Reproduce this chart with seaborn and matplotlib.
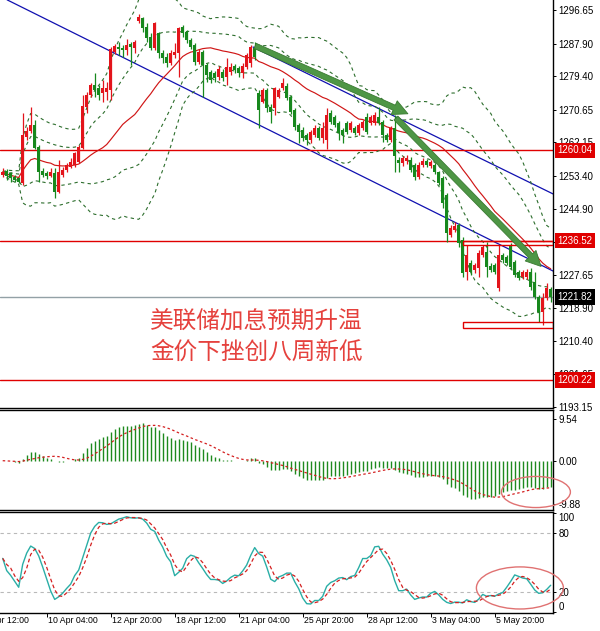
import numpy as np
import pandas as pd
import matplotlib
matplotlib.use('Agg')
import matplotlib.pyplot as plt
import matplotlib.transforms as mtransforms
from matplotlib.patches import Rectangle, Ellipse
import seaborn as sns

# H4 gold candles
opens = [1253.7, 1254.7, 1254.2, 1253.1, 1252.9, 1251.6, 1263.6, 1265.1, 1266.7, 1261.0,
         1254.7, 1254.2, 1253.4, 1254.2, 1249.2, 1253.7, 1255.0, 1255.7, 1256.3, 1257.0,
         1260.7, 1271.4, 1274.5, 1277.1, 1276.3, 1275.0, 1275.3, 1275.8, 1285.7, 1287.0,
         1286.7, 1286.2, 1287.8, 1286.7, 1293.8, 1294.6, 1292.2, 1289.6, 1286.7, 1290.7,
         1285.4, 1284.4, 1282.8, 1284.9, 1285.4, 1292.2, 1290.9, 1288.8, 1287.5, 1283.1,
         1285.7, 1282.3, 1280.5, 1280.2, 1279.2, 1280.5, 1279.2, 1280.5, 1282.1, 1281.5,
         1280.2, 1281.8, 1282.8, 1286.7, 1275.0, 1272.7, 1275.8, 1271.4, 1271.1, 1274.0,
         1276.3, 1276.8, 1274.0, 1270.6, 1266.7, 1265.4, 1264.1, 1262.8, 1264.1, 1265.9,
         1263.3, 1262.8, 1269.8, 1268.8, 1267.2, 1265.4, 1267.2, 1265.4, 1265.9, 1264.6,
         1265.9, 1268.8, 1267.2, 1267.2, 1268.8, 1267.5, 1264.1, 1262.8, 1266.0, 1257.6,
         1256.8, 1257.3, 1257.6, 1256.3, 1253.1, 1256.3, 1257.3, 1256.0, 1256.3, 1254.4,
         1252.9, 1248.4, 1238.0, 1239.3, 1240.6, 1236.7, 1228.4, 1230.7, 1228.9, 1229.4,
         1232.8, 1233.6, 1230.0, 1230.2, 1224.2, 1232.8, 1232.3, 1235.4, 1231.0, 1228.4,
         1227.1, 1227.1, 1228.4, 1225.8, 1221.9, 1218.0, 1221.6, 1224.0]
highs = [1255.5, 1255.2, 1254.4, 1253.7, 1253.1, 1269.8, 1266.2, 1271.4, 1268.0, 1261.5,
         1255.5, 1254.7, 1255.5, 1255.5, 1257.6, 1255.7, 1256.8, 1258.1, 1259.6, 1261.5,
         1274.5, 1275.3, 1277.6, 1280.2, 1277.1, 1278.4, 1277.9, 1287.0, 1287.8, 1288.3,
         1287.5, 1289.1, 1288.3, 1288.8, 1295.6, 1294.8, 1293.3, 1290.7, 1293.5, 1290.9,
         1286.2, 1285.4, 1286.2, 1288.1, 1292.2, 1292.7, 1291.4, 1289.4, 1288.1, 1286.5,
         1286.2, 1282.8, 1281.0, 1280.7, 1282.0, 1281.3, 1284.1, 1282.8, 1282.6, 1282.1,
         1282.8, 1285.4, 1287.5, 1288.3, 1275.8, 1276.3, 1276.3, 1272.2, 1276.6, 1276.3,
         1278.9, 1277.6, 1274.5, 1271.1, 1267.2, 1266.2, 1264.6, 1265.4, 1266.7, 1266.4,
         1267.5, 1271.1, 1270.6, 1269.3, 1267.7, 1265.9, 1267.7, 1267.7, 1266.4, 1267.2,
         1268.0, 1269.8, 1269.3, 1270.1, 1271.4, 1268.0, 1264.6, 1266.4, 1269.3, 1258.3,
         1258.6, 1258.9, 1258.3, 1256.8, 1257.0, 1258.1, 1257.8, 1257.6, 1256.8, 1254.7,
         1253.4, 1249.0, 1240.6, 1241.4, 1241.1, 1237.5, 1235.4, 1231.5, 1230.7, 1234.1,
         1235.4, 1236.2, 1230.7, 1230.7, 1235.4, 1233.3, 1232.8, 1235.9, 1231.5, 1228.9,
         1228.9, 1229.2, 1229.4, 1228.4, 1222.4, 1222.9, 1225.5, 1224.5]
lows = [1253.1, 1252.4, 1251.8, 1251.8, 1251.6, 1251.0, 1262.8, 1264.6, 1260.4, 1251.8,
        1253.1, 1252.6, 1253.1, 1247.7, 1249.0, 1253.1, 1254.4, 1255.5, 1255.7, 1256.8,
        1260.4, 1269.8, 1274.0, 1274.0, 1273.2, 1272.7, 1273.2, 1273.2, 1285.2, 1284.9,
        1284.4, 1284.9, 1282.3, 1285.4, 1293.3, 1290.9, 1288.3, 1286.2, 1286.2, 1284.1,
        1282.8, 1281.8, 1282.3, 1284.1, 1279.2, 1289.6, 1288.1, 1286.5, 1282.3, 1282.6,
        1274.0, 1277.9, 1277.6, 1277.9, 1278.4, 1278.1, 1277.1, 1279.7, 1280.2, 1279.2,
        1278.9, 1281.3, 1281.8, 1283.6, 1265.9, 1272.4, 1270.1, 1267.2, 1269.3, 1273.7,
        1275.8, 1273.2, 1269.6, 1265.4, 1262.0, 1262.5, 1261.5, 1262.0, 1263.6, 1262.8,
        1262.0, 1260.4, 1267.0, 1266.2, 1262.8, 1262.0, 1264.4, 1264.9, 1264.1, 1264.1,
        1265.4, 1264.4, 1266.7, 1266.7, 1266.7, 1262.3, 1262.3, 1262.3, 1254.4, 1254.4,
        1256.0, 1256.5, 1254.4, 1252.4, 1252.6, 1255.7, 1255.7, 1255.5, 1253.9, 1251.0,
        1245.0, 1236.2, 1237.5, 1238.8, 1234.9, 1227.1, 1226.3, 1227.6, 1228.1, 1227.1,
        1232.3, 1227.1, 1228.4, 1227.9, 1223.5, 1230.7, 1230.2, 1229.2, 1227.1, 1226.3,
        1226.6, 1226.6, 1223.7, 1221.4, 1215.4, 1214.6, 1221.1, 1220.6]
closes = [1254.4, 1253.4, 1252.9, 1252.4, 1251.8, 1264.1, 1265.1, 1266.7, 1260.7, 1254.4,
          1253.7, 1253.4, 1254.4, 1249.2, 1254.4, 1255.0, 1256.3, 1257.0, 1259.4, 1261.0,
          1271.6, 1274.5, 1277.1, 1275.8, 1274.5, 1276.3, 1276.3, 1286.5, 1287.3, 1286.5,
          1286.2, 1287.5, 1287.0, 1288.3, 1294.8, 1292.0, 1289.4, 1286.7, 1293.3, 1285.4,
          1284.1, 1282.8, 1285.4, 1285.7, 1292.0, 1290.7, 1288.8, 1287.0, 1283.1, 1285.7,
          1282.3, 1279.7, 1278.4, 1278.9, 1281.3, 1278.9, 1281.8, 1281.8, 1281.0, 1280.2,
          1282.1, 1284.9, 1287.0, 1284.4, 1270.6, 1275.8, 1271.1, 1270.1, 1276.3, 1275.8,
          1277.6, 1273.7, 1270.1, 1266.2, 1264.9, 1263.3, 1262.8, 1264.9, 1265.9, 1263.3,
          1265.9, 1269.3, 1267.5, 1266.7, 1264.6, 1264.1, 1264.9, 1267.2, 1264.6, 1266.7,
          1267.5, 1264.9, 1268.8, 1269.3, 1267.2, 1264.1, 1262.8, 1265.9, 1258.6, 1256.8,
          1258.1, 1258.1, 1255.0, 1253.1, 1256.3, 1257.3, 1256.3, 1257.0, 1254.4, 1251.6,
          1246.4, 1238.5, 1239.8, 1240.4, 1236.0, 1228.1, 1232.8, 1228.4, 1230.2, 1233.3,
          1234.9, 1229.7, 1228.9, 1228.4, 1232.8, 1231.5, 1230.7, 1229.7, 1227.6, 1226.8,
          1228.4, 1228.4, 1224.5, 1221.9, 1218.0, 1221.6, 1224.2, 1221.8]

price_ticks = [1296.65, 1287.90, 1279.40, 1270.65, 1262.15, 1253.40, 1244.90,
               1236.15, 1227.65, 1218.90, 1210.40, 1201.65, 1193.15]
red_levels = [1260.04, 1236.52, 1200.22]
last_price = 1221.82
macd_ticks = [9.54, 0.00, -9.88]
stoch_ticks = [0, 20, 80, 100]
time_bars = [-5, 11, 27, 43, 59, 75, 91, 107, 123]
time_labels = ['7 Apr 12:00', '10 Apr 04:00', '12 Apr 20:00', '18 Apr 12:00', '21 Apr 04:00',
               '25 Apr 20:00', '28 Apr 12:00', '3 May 04:00', '5 May 20:00']

# drawn objects (bar index, price)
channel_lines = [((1.1, 1299.3), (137.6, 1228.6)), ((62.6, 1287.0), (137.6, 1248.7))]
arrows = [((63.1, 1287.3), (101.3, 1269.6)), ((98.3, 1268.5), (134.6, 1229.8))]
boxes = [(115.1, 1213.8, 1215.4), (115.1, 1235.4, 1236.52)]
title_lines = ['美联储加息预期升温', '金价下挫创八周新低']

MA_PERIOD = 26
K_PERIOD, SLOWING, D_PERIOD = 14, 5, 3
RED = '#e3141b'
GREEN = '#17881d'

df = pd.DataFrame({'open': opens, 'high': highs, 'low': lows, 'close': closes})
df['bar'] = np.arange(len(df))
df['mid'] = df['close'].rolling(MA_PERIOD, min_periods=1).mean()
sd = df['close'].rolling(MA_PERIOD, min_periods=1).std(ddof=0)
df['up2'] = df['mid'] + 2 * sd
df['lo2'] = df['mid'] - 2 * sd
df['up1'] = df['mid'] + sd
df['lo1'] = df['mid'] - sd
ema12 = df['close'].ewm(span=12, adjust=False).mean()
ema26 = df['close'].ewm(span=26, adjust=False).mean()
df['macd'] = ema12 - ema26
df['signal'] = df['macd'].rolling(9, min_periods=1).mean()
ll = df['low'].rolling(K_PERIOD, min_periods=1).min()
hh = df['high'].rolling(K_PERIOD, min_periods=1).max()
df['stk'] = 100 * (df['close'] - ll).rolling(SLOWING, min_periods=1).sum() / \
    (hh - ll).rolling(SLOWING, min_periods=1).sum()
df['std'] = df['stk'].rolling(D_PERIOD, min_periods=1).mean()

sns.set_theme(style='white')
plt.rcParams['font.family'] = ['Liberation Sans', 'DejaVu Sans']

W, H = 600.0, 631.0
fig = plt.figure(figsize=(6, 6.31), dpi=100)
fig.patch.set_facecolor('white')
axw = 553 / W
ax = fig.add_axes([0, 1 - 408 / H, axw, 408 / H])
axm = fig.add_axes([0, 1 - 510 / H, axw, 100 / H], sharex=ax)
axs = fig.add_axes([0, 1 - 613 / H, axw, 101 / H], sharex=ax)

# main chart
for (x0, y0), (x1, y1) in channel_lines:
    ax.plot([x0, x1], [y0, y1], color='#1010b0', lw=0.9, zorder=2)
for lvl in red_levels:
    ax.axhline(lvl, color='#e00000', lw=1.0, zorder=2)
ax.axhline(last_price, color='#93a1a6', lw=1.0, zorder=2)

dash = (0, (3, 3))
for col in ['up2', 'lo2', 'up1', 'lo1']:
    sns.lineplot(data=df, x='bar', y=col, ax=ax, color='#2d6e2d', lw=0.8, linestyle=dash, zorder=3)
sns.lineplot(data=df, x='bar', y='mid', ax=ax, color='#d01616', lw=0.85, zorder=3)

up = df['close'] >= df['open']
colors = np.where(up, RED, GREEN)
ax.vlines(df['bar'], df['low'], df['high'], colors=colors, lw=0.9, zorder=4)
body = (df['close'] - df['open']).abs().clip(lower=0.3)
ax.bar(df['bar'], body, bottom=np.minimum(df['open'], df['close']), width=0.72,
       color=colors, linewidth=0, zorder=5)

for x0, p0, p1 in boxes:
    ax.add_patch(Rectangle((x0, p0), 137.575 - x0, p1 - p0, fill=False, ec='#e00000', lw=1.0,
                           zorder=6))

for (x0, y0), (x1, y1) in arrows:
    ax.annotate('', xy=(x1, y1), xytext=(x0, y0), zorder=7,
                arrowprops=dict(arrowstyle='simple,head_length=0.6,head_width=0.6,tail_width=0.22',
                                mutation_scale=18, fc='#4e9645', ec='#3a7a32', lw=0.6,
                                shrinkA=0, shrinkB=0))

for i, line in enumerate(title_lines):
    ax.text(150 / 553, [0.2108, 0.1373][i], line, transform=ax.transAxes, ha='left', va='center',
            fontsize=17, color='#e5413d', family=['Noto Sans CJK SC', 'DejaVu Sans'], zorder=8)

# MACD
axm.vlines(df['bar'], 0, df['macd'], colors='#1e8a1e', lw=1.0)
sns.lineplot(data=df, x='bar', y='signal', ax=axm, color='#d42020', lw=0.9, linestyle=(0, (2, 2)))
axm.add_patch(Ellipse((133.3, -7.15), 17.25, 7.1, fill=False, ec='#e07272', lw=1.0,
                      clip_on=False, zorder=9))

# Stochastic
for lvl in [80, 20]:
    axs.axhline(lvl, color='#b9b9b9', lw=0.8, linestyle=dash)
sns.lineplot(data=df, x='bar', y='stk', ax=axs, color='#2aaea6', lw=1.0)
sns.lineplot(data=df, x='bar', y='std', ax=axs, color='#d42020', lw=0.9, linestyle=(0, (3, 2)))
axs.add_patch(Ellipse((129.3, 24.3), 21.75, 42.5, fill=False, ec='#e07272', lw=1.0,
                      clip_on=False, zorder=9))

# axes cosmetics
ax.set_xlim(-0.675, 137.575)
ax.set_ylim(1192.9, 1299.26)
axm.set_ylim(-11.26, 11.58)
axs.set_ylim(-1.0, 101.0)

for a in [ax, axm, axs]:
    a.set_facecolor('white')
    a.set_xlabel('')
    a.set_ylabel('')
    a.yaxis.tick_right()
    a.tick_params(axis='y', which='both', direction='out', length=2.5, width=0.7,
                  labelsize=7, pad=1.5, colors='black', right=True, left=False)
    for s in a.spines.values():
        s.set_color('black')
        s.set_linewidth(1.0)
    a.spines['left'].set_visible(False)
    a.tick_params(axis='x', bottom=False, labelbottom=False)
ax.spines['top'].set_visible(False)

ax.set_yticks(price_ticks)
ax.set_yticklabels(['%.2f' % v for v in price_ticks])
axm.set_yticks(macd_ticks)
axm.set_yticklabels(['%.2f' % v for v in macd_ticks])
axs.set_yticks(stoch_ticks)
labs = axs.set_yticklabels([str(v) for v in stoch_ticks])
labs[0].set_va('bottom')
labs[3].set_va('top')

axs.set_xticks(time_bars[1:])
axs.tick_params(axis='x', bottom=True, labelbottom=False, direction='out', length=3,
                width=0.7, colors='black')
tr = mtransforms.blended_transform_factory(axs.transData, axs.transAxes)
for b, lab in zip(time_bars, time_labels):
    axs.text(b + 0.3, -0.075, lab, transform=tr, ha='left', va='center', fontsize=6.3,
             color='black', clip_on=False)

# price tags on the right scale
trp = mtransforms.blended_transform_factory(ax.transAxes, ax.transData)
for lvl in red_levels:
    ax.text(1.008, lvl, '%.2f' % lvl, transform=trp, ha='left', va='center', fontsize=7,
            color='white', zorder=10, clip_on=False,
            bbox=dict(boxstyle='square,pad=0.28', fc='#e00000', ec='none'))
ax.text(1.008, last_price, '%.2f' % last_price, transform=trp, ha='left', va='center',
        fontsize=7, color='white', zorder=10, clip_on=False,
        bbox=dict(boxstyle='square,pad=0.28', fc='black', ec='none'))

fig.savefig('out.png', dpi=100, facecolor='white')
